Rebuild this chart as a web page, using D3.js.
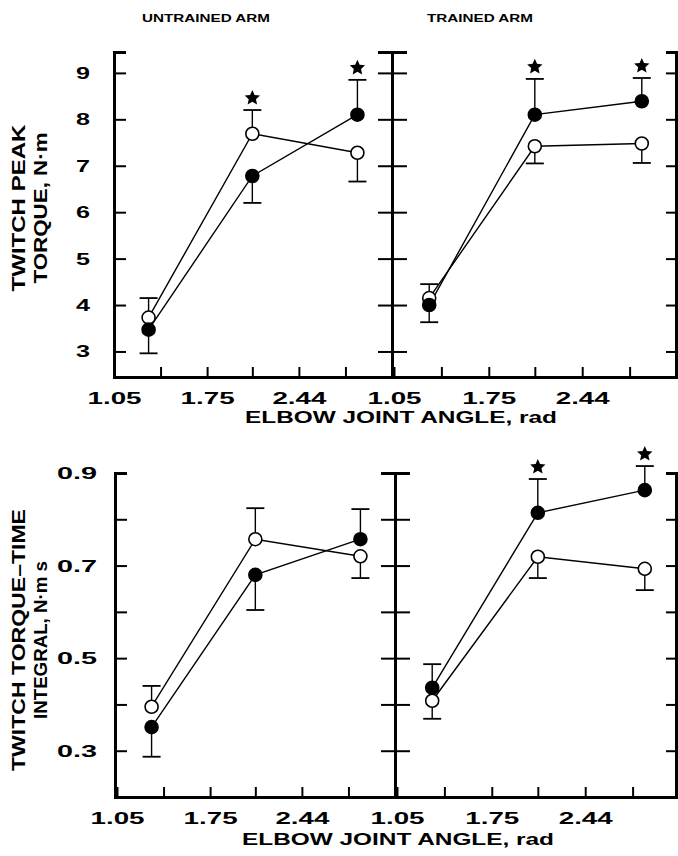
<!DOCTYPE html>
<html>
<head>
<meta charset="utf-8">
<script src="https://d3js.org/d3.v7.min.js"></script>
<style>
  body { margin: 0; background: #fff; }
  svg text { font-family: "Liberation Sans", Arial, sans-serif; font-weight: bold; fill: #000; }
</style>
</head>
<body>
<script>
// elbow joint angles (rad) at which the twitches were evoked
var angles = [1.31, 2.09, 2.88];
var xTicks = [1.05, 1.40, 1.75, 2.09, 2.44, 2.79];
var xLabels = [1.05, 1.75, 2.44];

// twitch peak torque, N·m (open = before, filled = after)
var peakUntrainedPre = [3.73, 7.69, 7.28];
var peakUntrainedPreSE = [0.42, 0.51, 0.62];
var peakUntrainedPost = [3.47, 6.78, 8.10];
var peakUntrainedPostSE = [0.51, 0.58, 0.75];
var peakUntrainedSig = [false, true, true];

var peakTrainedPre = [4.15, 7.42, 7.48];
var peakTrainedPreSE = [0.30, 0.37, 0.42];
var peakTrainedPost = [4.00, 8.10, 8.39];
var peakTrainedPostSE = [0.37, 0.77, 0.50];
var peakTrainedSig = [false, true, true];

var peakTicks = [3, 4, 5, 6, 7, 8, 9];
var peakLabels = [3, 4, 5, 6, 7, 8, 9];

// twitch torque-time integral, N·m·s
var intUntrainedPre = [0.395, 0.757, 0.720];
var intUntrainedPreSE = [0.045, 0.067, 0.047];
var intUntrainedPost = [0.351, 0.680, 0.757];
var intUntrainedPostSE = [0.064, 0.076, 0.065];
var intUntrainedSig = [false, false, false];

var intTrainedPre = [0.408, 0.719, 0.693];
var intTrainedPreSE = [0.039, 0.046, 0.046];
var intTrainedPost = [0.436, 0.814, 0.863];
var intTrainedPostSE = [0.051, 0.073, 0.052];
var intTrainedSig = [false, true, true];

var intTicks = [0.3, 0.4, 0.5, 0.6, 0.7, 0.8, 0.9];
var intLabels = [0.3, 0.5, 0.7, 0.9];

var svg = d3.select("body").append("svg")
    .attr("width", 678)
    .attr("height", 856);

// a fat five point star, d3's own one is too thin
var fatStar = {
  draw: function (context, size) {
    var ro = Math.sqrt(size) * 0.85, ri = ro * 0.47;
    for (var k = 0; k < 10; k++) {
      var r = k % 2 ? ri : ro, a = -Math.PI / 2 + k * Math.PI / 5;
      if (k === 0) context.moveTo(r * Math.cos(a), r * Math.sin(a));
      else context.lineTo(r * Math.cos(a), r * Math.sin(a));
    }
    context.closePath();
  }
};

// stretched bold text, the original lettering is very wide
function wideText(g, str, x, y, size, len, anchor, rotate) {
  var t = g.append("text")
      .attr("font-size", size)
      .attr("text-anchor", anchor || "middle")
      .attr("textLength", len)
      .attr("lengthAdjust", "spacingAndGlyphs")
      .text(str);
  if (rotate) {
    t.attr("transform", "translate(" + x + "," + y + ") rotate(-90)");
  } else {
    t.attr("x", x).attr("y", y);
  }
  return t;
}

function styleAxis(g, fs) {
  g.attr("font-size", fs).attr("font-family", null);
  g.select(".domain").attr("stroke-width", 3);
  g.selectAll(".tick line").attr("stroke-width", 2);
}

function drawRow(cfg) {
  var y = d3.scaleLinear().domain(cfg.yDomain).range([cfg.bottom, cfg.top]);
  var xl = d3.scaleLinear().domain([1.05, 3.14]).range(cfg.xLeft);
  var xr = d3.scaleLinear().domain([1.05, 3.14]).range(cfg.xRight);

  // left axis with labels, ticks pointing in
  var gl = svg.append("g")
      .attr("transform", "translate(" + cfg.leftX + ",0)")
      .call(d3.axisLeft(y).tickValues(cfg.ticks)
        .tickSizeInner(-12).tickSizeOuter(-12).tickPadding(cfg.pad)
        .tickFormat(function (d) { return cfg.labels.indexOf(d) >= 0 ? cfg.fmt(d) : ""; }));
  styleAxis(gl, 17);
  gl.selectAll(".tick text").filter(function () { return this.textContent !== ""; })
      .attr("textLength", function () { return this.textContent.length > 1 ? 40 : 14; })
      .attr("lengthAdjust", "spacingAndGlyphs");

  // middle axis shared by both panels, ticks both ways
  var gm1 = svg.append("g")
      .attr("transform", "translate(" + cfg.midX + ",0)")
      .call(d3.axisRight(y).tickValues(cfg.ticks).tickSizeInner(-14).tickSizeOuter(-14).tickFormat(""));
  styleAxis(gm1, 10);
  var gm2 = svg.append("g")
      .attr("transform", "translate(" + cfg.midX + ",0)")
      .call(d3.axisLeft(y).tickValues(cfg.ticks).tickSizeInner(-15).tickSizeOuter(-15).tickFormat(""));
  styleAxis(gm2, 10);

  // right edge axis
  var gr = svg.append("g")
      .attr("transform", "translate(" + cfg.rightX + ",0)")
      .call(d3.axisRight(y).tickValues(cfg.ticks).tickSizeInner(-10).tickSizeOuter(-10).tickFormat(""));
  styleAxis(gr, 10);

  // x axes
  [xl, xr].forEach(function (x) {
    var gx = svg.append("g")
        .attr("transform", "translate(0," + cfg.bottom + ")")
        .call(d3.axisBottom(x).tickValues(xTicks)
          .tickSizeInner(-10).tickSizeOuter(0).tickPadding(15)
          .tickFormat(function (d) { return xLabels.indexOf(d) >= 0 ? d.toFixed(2) : ""; }));
    styleAxis(gx, 17);
    gx.selectAll(".tick text").filter(function () { return this.textContent !== ""; })
        .attr("textLength", 54)
        .attr("lengthAdjust", "spacingAndGlyphs");
  });

  wideText(svg, "ELBOW JOINT ANGLE, rad", cfg.titleX, cfg.titleY, 16, 312);
  wideText(svg, cfg.yTitle[0], 25, cfg.yTitleY, 18, cfg.yTitleLen[0], "middle", true);
  wideText(svg, cfg.yTitle[1], 47, cfg.yTitleY, 18, cfg.yTitleLen[1], "middle", true);

  cfg.panels.forEach(function (p) {
    var x = p.side === "left" ? xl : xr;
    var g = svg.append("g");
    var line = d3.line()
        .x(function (d, i) { return x(angles[i]); })
        .y(function (d) { return y(d); });

    [p.pre, p.post].forEach(function (vals) {
      g.append("path")
          .attr("d", line(vals))
          .attr("fill", "none")
          .attr("stroke", "#000")
          .attr("stroke-width", 1.4);
    });

    // error bars go away from the other series
    var series = [
      { vals: p.pre, se: p.preSE, other: p.post, fill: "#fff" },
      { vals: p.post, se: p.postSE, other: p.pre, fill: "#000" }
    ];
    series.forEach(function (s) {
      s.vals.forEach(function (v, i) {
        var dir = v >= s.other[i] ? 1 : -1;
        var end = v + dir * s.se[i];
        var cx = x(angles[i]);
        g.append("line")
            .attr("x1", cx).attr("x2", cx)
            .attr("y1", y(v)).attr("y2", y(end))
            .attr("stroke", "#000").attr("stroke-width", 1.4);
        g.append("line")
            .attr("x1", cx - 9).attr("x2", cx + 9)
            .attr("y1", y(end)).attr("y2", y(end))
            .attr("stroke", "#000").attr("stroke-width", 1.8);
      });
    });

    series.forEach(function (s) {
      g.selectAll(null)
          .data(s.vals)
          .enter()
          .append("circle")
          .attr("cx", function (d, i) { return x(angles[i]); })
          .attr("cy", function (d) { return y(d); })
          .attr("r", 6.5)
          .attr("fill", s.fill)
          .attr("stroke", "#000")
          .attr("stroke-width", 1.6);
    });

    // significance stars above the upper bar
    p.sig.forEach(function (sig, i) {
      if (!sig) return;
      var up = p.pre[i] >= p.post[i] ? p.pre[i] + p.preSE[i] : p.post[i] + p.postSE[i];
      g.append("path")
          .attr("d", d3.symbol(fatStar, 90)())
          .attr("transform", "translate(" + x(angles[i]) + "," + (y(up) - 12) + ")")
          .attr("fill", "#000");
    });
  });
}

drawRow({
  yDomain: [2.45, 9.45], top: 52, bottom: 377,
  ticks: peakTicks, labels: peakLabels, fmt: d3.format("d"), pad: 24,
  leftX: 114, midX: 392, rightX: 676,
  xLeft: [114, 392], xRight: [394, 677],
  titleX: 401, titleY: 423,
  yTitle: ["TWITCH PEAK", "TORQUE, N·m"], yTitleLen: [167, 151], yTitleY: 208,
  panels: [
    { side: "left", pre: peakUntrainedPre, preSE: peakUntrainedPreSE,
      post: peakUntrainedPost, postSE: peakUntrainedPostSE, sig: peakUntrainedSig },
    { side: "right", pre: peakTrainedPre, preSE: peakTrainedPreSE,
      post: peakTrainedPost, postSE: peakTrainedPostSE, sig: peakTrainedSig }
  ]
});

drawRow({
  yDomain: [0.2, 0.9], top: 473, bottom: 797,
  ticks: intTicks, labels: intLabels, fmt: d3.format(".1f"), pad: 18,
  leftX: 115, midX: 395, rightX: 676,
  xLeft: [117, 395], xRight: [397, 680],
  titleX: 398, titleY: 845,
  yTitle: ["TWITCH TORQUE\u2013TIME", "INTEGRAL, N·m s"], yTitleLen: [262, 158], yTitleY: 640,
  panels: [
    { side: "left", pre: intUntrainedPre, preSE: intUntrainedPreSE,
      post: intUntrainedPost, postSE: intUntrainedPostSE, sig: intUntrainedSig },
    { side: "right", pre: intTrainedPre, preSE: intTrainedPreSE,
      post: intTrainedPost, postSE: intTrainedPostSE, sig: intTrainedSig }
  ]
});

wideText(svg, "UNTRAINED ARM", 206, 22, 11, 128);
wideText(svg, "TRAINED ARM", 480, 22, 11, 106);
</script>
</body>
</html>
